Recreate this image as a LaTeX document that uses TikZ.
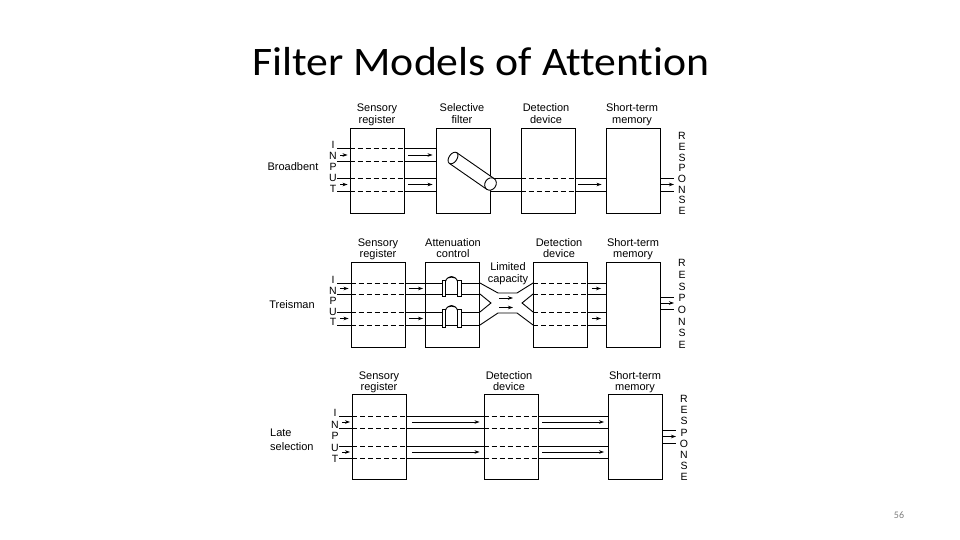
\documentclass[tikz,border=0pt]{standalone}
\usepackage{fontspec}
\setmainfont{Liberation Sans}
\newfontfamily\titlefont[Ligatures=NoCommon]{Carlito}
\usetikzlibrary{arrows.meta}
\newcommand\boxfont{\fontsize{11}{11.5}\selectfont}

\tikzset{
  stage/.style={draw, line width=0.9pt, inner sep=0pt, minimum width=54pt, minimum height=85pt},
  tag/.style={align=center, font=\boxfont, inner sep=0pt},
  head/.style={font=\boxfont, inner sep=0pt, anchor=base},
  letters/.style={align=center, font=\fontsize{10.5}{#1}\selectfont, inner sep=0pt},
  chan/.style={line width=0.9pt},
  dashchan/.style={line width=0.9pt, dash pattern=on 5pt off 3pt},
  flow/.style={line width=0.8pt, -{Stealth[length=5pt,width=3.5pt]}},
}

\begin{document}
\begin{tikzpicture}[x=1pt,y=-1pt]
\useasboundingbox (0,0) rectangle (960,540);
\fill[white] (0,0) rectangle (960,540);

\node[font=\titlefont\fontsize{40.5}{48}\selectfont, anchor=base, xscale=1.08, transform shape] (title) at (481,76) {Filter Models of Attention};
\node[font=\titlefont\fontsize{10}{12}\selectfont, text=gray] (pagenum) at (899,515) {56};

% stage names, two lines each
\foreach \n/\x/\y/\a/\b in {sr1/377/112/Sensory/register, sf1/462/112/Selective/filter,
    dd1/546/112/Detection/device, stm1/632/112/Short-term/memory,
    sr2/378/246/Sensory/register, ac2/453/246/Attenuation/control,
    dd2/559/246/Detection/device, stm2/633/246/Short-term/memory,
    lim2/508/270.5/Limited/capacity,
    sr3/379/379/Sensory/register, dd3/509/379/Detection/device,
    stm3/635/379/Short-term/memory} {
  \node[head] (\n a) at (\x,\y) {\a};
  \node[head] (\n b) at (\x,\y+11.5) {\b};
}

% Broadbent
\node[stage] (sr1) at (377,170.5) {};
\node[stage] (sf1) at (463,170.5) {};
\node[stage] (dd1) at (548,170.5) {};
\node[stage] (stm1) at (633,170.5) {};
\node[tag] (broadbent) at (293,167) {Broadbent};
\node[letters=11] (in1) at (333,167) {I\\N\\P\\U\\T};
\node[letters=10.7] (out1) at (682,173.5) {R\\E\\S\\P\\O\\N\\S\\E};
\coordinate (start1) at (337,0);
\coordinate (end1) at (674,0);

\foreach \y in {148,161,178,191} {
  \draw[chan] (start1 |- 0,\y) -- (sr1.west |- 0,\y);
  \draw[dashchan] (sr1.west |- 0,\y) -- (sr1.east |- 0,\y);
  \draw[chan] (sr1.east |- 0,\y) -- (sf1.west |- 0,\y);
}
\foreach \y in {178,191} {
  \draw[chan] (sf1.east |- 0,\y) -- (dd1.west |- 0,\y);
  \draw[dashchan] (dd1.west |- 0,\y) -- (dd1.east |- 0,\y);
  \draw[chan] (dd1.east |- 0,\y) -- (stm1.west |- 0,\y);
  \draw[chan] (stm1.east |- 0,\y) -- (end1 |- 0,\y);
}
\foreach \y in {155,184.5} {
  \draw[flow, shorten <=3pt, shorten >=2pt] (start1 |- 0,\y) -- (sr1.west |- 0,\y);
  \draw[flow, shorten <=4pt, shorten >=3pt] (sr1.east |- 0,\y) -- (sf1.west |- 0,\y);
}
\draw[flow, shorten <=3pt, shorten >=4pt] (dd1.east |- 0,184.5) -- (stm1.west |- 0,184.5);
\draw[flow] (stm1.east |- 0,184.5) -- (end1 |- 0,184.5);

% the filter tube
\fill[white] (456.7,152.65) -- (494.2,178.65) -- (486.8,189.35) -- (449.3,163.35) -- cycle;
\draw[chan] (456.7,152.65) -- (494.2,178.65);
\draw[chan] (449.3,163.35) -- (486.8,189.35);
\draw[chan, fill=white, rotate around={-34.7:(490.5,184)}] (490.5,184) ellipse [x radius=5.5, y radius=6.5];
\draw[chan, fill=white, rotate around={-34.7:(453,158)}] (453,158) ellipse [x radius=4, y radius=6.5];

% Treisman
\node[stage] (sr2) at (378,304.5) {};
\node[stage] (ac2) at (452.5,304.5) {};
\node[stage] (dd2) at (560.5,304.5) {};
\node[stage] (stm2) at (633.5,304.5) {};
\node[tag] (treisman) at (292,305) {Treisman};
\node[letters=10.5] (in2) at (333,301) {I\\N\\P\\U\\T};
\node[letters=11.7] (out2) at (682,304) {R\\E\\S\\P\\O\\N\\S\\E};
\coordinate (start2) at (337,0);
\coordinate (end2) at (674,0);

\foreach \y in {283,294,312,325} {
  \draw[chan] (start2 |- 0,\y) -- (sr2.west |- 0,\y);
  \draw[dashchan] (sr2.west |- 0,\y) -- (sr2.east |- 0,\y);
  \draw[chan] (sr2.east |- 0,\y) -- (ac2.west |- 0,\y);
  \draw[dashchan] (dd2.west |- 0,\y) -- (dd2.east |- 0,\y);
  \draw[chan] (dd2.east |- 0,\y) -- (stm2.west |- 0,\y);
}
\foreach \y in {294,325}
  \draw[chan] (ac2.west |- 0,\y) -- (ac2.east |- 0,\y);
% valves
\foreach \y/\b in {283/296.5,312/327.5} {
  \draw[chan] (ac2.west |- 0,\y) -- (445.5,\y);
  \draw[chan] (457.5,\y) -- (ac2.east |- 0,\y);
  \draw[chan] (445.5,\y-1.5) .. controls (447,\y-8) and (456,\y-8) .. (457.5,\y-1.5);
  \draw[line width=1.2pt] (448.5,\y-5.3) .. controls (450,\y-6.3) and (453,\y-6.3) .. (454.5,\y-5.3);
  \draw[chan, fill=white] (442,\y-2.5) rectangle (445.5,\b);
  \draw[chan, fill=white] (457.5,\y-2.5) rectangle (461,\b);
}
% limited capacity
\draw[chan] (ac2.east |- 0,283) -- (498,293) -- (517,293) -- (dd2.west |- 0,283);
\draw[chan] (ac2.east |- 0,325) -- (498,313) -- (517,313) -- (dd2.west |- 0,325);
\draw[chan] (ac2.east |- 0,294) -- (491,303) -- (ac2.east |- 0,312);
\draw[chan] (dd2.west |- 0,294) -- (522,303) -- (dd2.west |- 0,312);
\draw[flow] (499,298) -- (513,298);
\draw[flow] (499,307.5) -- (513,307.5);

\foreach \y in {288.5,318.5} {
  \draw[flow, shorten <=3pt, shorten >=2pt] (start2 |- 0,\y) -- (sr2.west |- 0,\y);
  \draw[flow, shorten <=4pt, shorten >=2pt] (sr2.east |- 0,\y) -- (ac2.west |- 0,\y);
  \draw[flow, shorten <=4pt, shorten >=5pt] (dd2.east |- 0,\y) -- (stm2.west |- 0,\y);
}
\draw[chan] (stm2.east |- 0,297) -- (end2 |- 0,297);
\draw[chan] (stm2.east |- 0,309) -- (end2 |- 0,309);
\draw[flow] (stm2.east |- 0,303) -- (end2 |- 0,303);

% Late selection
\node[stage] (sr3) at (379.5,437) {};
\node[stage] (dd3) at (511,437) {};
\node[stage] (stm3) at (635.5,437) {};
\node[tag, align=left, anchor=west, font=\fontsize{11}{14}\selectfont] (late) at (270,440) {Late\\selection};
\node[letters=11.5] (in3) at (335,436) {I\\N\\P\\U\\T};
\node[letters=11.1] (out3) at (684,438) {R\\E\\S\\P\\O\\N\\S\\E};
\coordinate (start3) at (339,0);
\coordinate (end3) at (676,0);

\foreach \y in {416,428,446,458} {
  \draw[chan] (start3 |- 0,\y) -- (sr3.west |- 0,\y);
  \draw[dashchan] (sr3.west |- 0,\y) -- (sr3.east |- 0,\y);
  \draw[chan] (sr3.east |- 0,\y) -- (dd3.west |- 0,\y);
  \draw[dashchan] (dd3.west |- 0,\y) -- (dd3.east |- 0,\y);
  \draw[chan] (dd3.east |- 0,\y) -- (stm3.west |- 0,\y);
}
\foreach \y in {422,452} {
  \draw[flow, shorten <=3pt, shorten >=2pt] (start3 |- 0,\y) -- (sr3.west |- 0,\y);
  \draw[flow, shorten <=5pt, shorten >=4pt] (sr3.east |- 0,\y) -- (dd3.west |- 0,\y);
  \draw[flow, shorten <=4pt, shorten >=4pt] (dd3.east |- 0,\y) -- (stm3.west |- 0,\y);
}
\draw[chan] (stm3.east |- 0,430) -- (end3 |- 0,430);
\draw[chan] (stm3.east |- 0,443) -- (end3 |- 0,443);
\draw[flow] (stm3.east |- 0,436.5) -- (end3 |- 0,436.5);
\end{tikzpicture}
\end{document}
